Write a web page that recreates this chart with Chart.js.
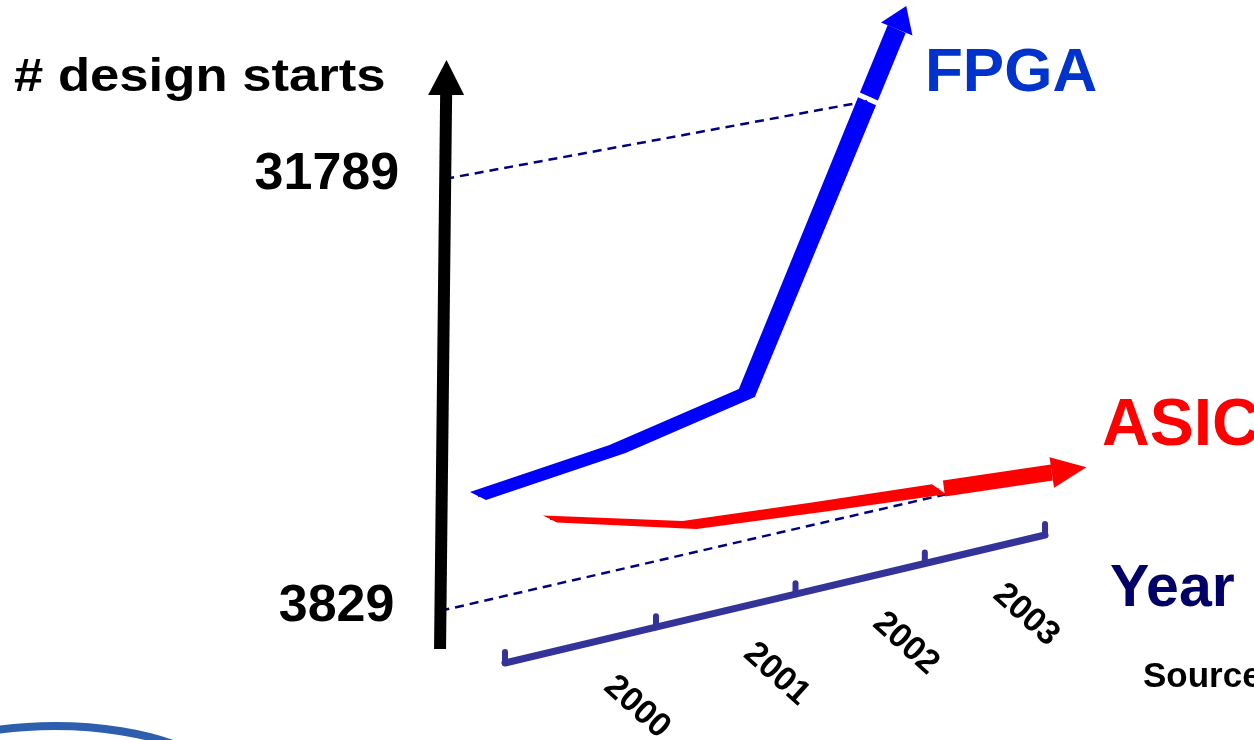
<!DOCTYPE html>
<html>
<head>
<meta charset="utf-8">
<script src="https://cdn.jsdelivr.net/npm/chart.js@4.4.1/dist/chart.umd.min.js"></script>
<style>
  html, body { margin: 0; padding: 0; background: #ffffff; overflow: hidden; }
  canvas { display: block; }
</style>
</head>
<body>
<canvas id="c" width="1254" height="740"></canvas>
<script>
// Design starts per year
const years = ['2000', '2001', '2002', '2003'];
const fpgaStarts = [8030, 9330, 11520, 31789];
const asicStarts = [7630, 5200, 4470, 3829];

// Values marked on the vertical axis
const valueTicks = [31789, 3829];
const valueTickLabels = ['31789', '3829'];

// Perspective drawing plane: years recede to the right, values rise upward
const VIEW = {
  originX: 505, originY: 663,          // front end of the year axis
  yearStep: 157.2, recede: 0.0411,     // year spacing and its perspective shrink
  axisSlope: 128 / 540,                // rise of the year axis per px
  pxPerUnit: 0.01545,                  // vertical scale at the front
  valueAxis: { x: 439.8, y: 670, lean: 0.011, bottom: 21, top: 575, head: 35, headHalf: 18 },
  lanes: { FPGA: { dx: -178, dy: -12 }, ASIC: { dx: -106, dy: 5 } }
};

function along(w) { return VIEW.yearStep * w / (1 + VIEW.recede * w); }
function shrink(w) { return 1 / (1 + VIEW.recede * w); }
function axisPoint(w) {
  const a = along(w);
  return { x: VIEW.originX + a, y: VIEW.originY - a * VIEW.axisSlope };
}
// year index i (0 = 2000) sits at slot i + 1 of the year axis
function project(i, value, lane) {
  const w = i + 1;
  const base = axisPoint(w);
  const off = VIEW.lanes[lane];
  return { x: base.x + off.dx, y: base.y + off.dy - value * VIEW.pxPerUnit * shrink(w) };
}
function valueAxisAt(h) {
  return { x: VIEW.valueAxis.x + h * VIEW.valueAxis.lean, y: VIEW.valueAxis.y - h };
}
function valueAxisPoint(value) { return valueAxisAt(value * VIEW.pxPerUnit); }

const STYLE = {
  FPGA: { color: '#0000ff', depth: [[16, 8], [16, 8], [16, 8], [18, 8]],
          arrow: { gap: 5, shaft: 78, head: 25, half: 17, depth: [18, 8] } },
  ASIC: { color: '#ff0000', depth: [[14, 7], [14, 8], [14, 9], [14, 10]],
          arrow: { gap: 5, shaft: 114, head: 35, half: 15.5, depth: [2, 16] } },
  axisBlue: '#333399',
  guide: '#000080',
  font: '"Liberation Sans", Arial, Helvetica, sans-serif'
};

const last = years.length - 1;
const fpgaPts = years.map((_, i) => project(i, fpgaStarts[i], 'FPGA'));
const asicPts = years.map((_, i) => project(i, asicStarts[i], 'ASIC'));
const slots = [0].concat(years.map((_, i) => i + 1));
const yearAxisPts = slots.map(w => axisPoint(w));
// the lower guide meets the underside of the ASIC ribbon
const asicUnder = {
  x: asicPts[last].x + STYLE.ASIC.depth[last][0] / 2,
  y: asicPts[last].y + STYLE.ASIC.depth[last][1] / 2
};

function ribbon(ctx, pts, depth, color) {
  ctx.beginPath();
  pts.forEach((p, i) => ctx.lineTo(p.x - depth[i][0] / 2, p.y - depth[i][1] / 2));
  for (let i = pts.length - 1; i >= 0; i--) ctx.lineTo(pts[i].x + depth[i][0] / 2, pts[i].y + depth[i][1] / 2);
  ctx.closePath();
  ctx.fillStyle = color;
  ctx.fill();
}

function trendArrow(ctx, prev, end, a, color) {
  let ux = end.x - prev.x, uy = end.y - prev.y;
  const len = Math.hypot(ux, uy); ux /= len; uy /= len;
  const nx = -uy, ny = ux;
  const s = { x: end.x + ux * a.gap, y: end.y + uy * a.gap };
  const e = { x: end.x + ux * a.shaft, y: end.y + uy * a.shaft };
  const dx = a.depth[0] / 2, dy = a.depth[1] / 2;
  ctx.fillStyle = color;
  ctx.beginPath();
  ctx.moveTo(s.x - dx, s.y - dy);
  ctx.lineTo(e.x - dx, e.y - dy);
  ctx.lineTo(e.x + dx, e.y + dy);
  ctx.lineTo(s.x + dx, s.y + dy);
  ctx.closePath();
  ctx.fill();
  ctx.beginPath();
  ctx.moveTo(e.x + nx * a.half, e.y + ny * a.half);
  ctx.lineTo(e.x + ux * a.head, e.y + uy * a.head);
  ctx.lineTo(e.x - nx * a.half, e.y - ny * a.half);
  ctx.closePath();
  ctx.fill();
}

const decor = {
  id: 'decor',
  afterDatasetDraw(chart, args) {
    const ctx = chart.ctx;
    const ds = chart.data.datasets[args.index];
    const pts = args.meta.data.map(el => ({ x: el.x, y: el.y }));
    ctx.save();
    if (ds.label === 'FPGA' || ds.label === 'ASIC') {
      const st = STYLE[ds.label];
      ribbon(ctx, pts, st.depth, st.color);
      trendArrow(ctx, pts[pts.length - 2], pts[pts.length - 1], st.arrow, st.color);
    } else if (ds.label === 'Year') {
      ctx.strokeStyle = STYLE.axisBlue;
      ctx.lineWidth = 6;
      ctx.lineCap = 'round';
      pts.forEach(p => { ctx.beginPath(); ctx.moveTo(p.x, p.y); ctx.lineTo(p.x, p.y - 11); ctx.stroke(); });
      ctx.fillStyle = '#000000';
      ctx.font = 'bold 34px ' + STYLE.font;
      ctx.textAlign = 'center';
      ctx.textBaseline = 'middle';
      years.forEach((y, i) => {
        const p = pts[i + 1];
        ctx.save();
        ctx.translate(p.x - 19, p.y + 80);
        ctx.rotate(42 * Math.PI / 180);
        ctx.fillText(y, 0, 0);
        ctx.restore();
      });
    } else if (ds.label === '# design starts') {
      const top = pts[1];
      const tip = valueAxisAt(VIEW.valueAxis.top + VIEW.valueAxis.head);
      ctx.fillStyle = '#000000';
      ctx.beginPath();
      ctx.moveTo(top.x - VIEW.valueAxis.headHalf, top.y);
      ctx.lineTo(tip.x, tip.y);
      ctx.lineTo(top.x + VIEW.valueAxis.headHalf, top.y);
      ctx.closePath();
      ctx.fill();
    }
    ctx.restore();
  },
  afterDraw(chart) {
    const ctx = chart.ctx;
    ctx.save();
    ctx.textBaseline = 'alphabetic';

    // axis title
    ctx.fillStyle = '#000000';
    ctx.font = 'bold 47px ' + STYLE.font;
    ctx.save();
    ctx.translate(14, 91);
    ctx.scale(1.12, 1);
    ctx.fillText('# design starts', 0, 0);
    ctx.restore();

    // marked values on the vertical axis
    ctx.font = 'bold 52px ' + STYLE.font;
    ctx.textAlign = 'right';
    ctx.textBaseline = 'middle';
    valueTicks.forEach((v, i) => {
      const p = valueAxisPoint(v);
      ctx.fillText(valueTickLabels[i], p.x - 46, p.y - 4);
    });

    // series names and axis name
    ctx.textAlign = 'left';
    ctx.textBaseline = 'alphabetic';
    ctx.fillStyle = '#0033cc';
    ctx.font = 'bold 62px ' + STYLE.font;
    ctx.fillText('FPGA', 925, 91);
    ctx.fillStyle = '#ff0000';
    ctx.font = 'bold 66px ' + STYLE.font;
    ctx.fillText('ASIC', 1102, 445);
    ctx.fillStyle = '#000066';
    ctx.font = 'bold 59px ' + STYLE.font;
    ctx.fillText('Year', 1110, 606);
    ctx.fillStyle = '#000000';
    ctx.font = 'bold 35px ' + STYLE.font;
    ctx.fillText('Source', 1143, 687);

    // logo ring in the corner
    ctx.strokeStyle = '#2d5fae';
    ctx.lineWidth = 8;
    ctx.beginPath();
    ctx.ellipse(55, 800, 180, 74, 0, Math.PI, 2 * Math.PI);
    ctx.stroke();
    ctx.restore();
  }
};

const line = (label, data, color, width, order, extra) => Object.assign({
  label, data, showLine: true, borderColor: color, backgroundColor: color,
  borderWidth: width, pointRadius: 0, fill: false, order
}, extra || {});

new Chart(document.getElementById('c'), {
  type: 'scatter',
  data: {
    datasets: [
      line('guide ' + valueTickLabels[0], [valueAxisPoint(valueTicks[0]), fpgaPts[last]], STYLE.guide, 2.5, 6, { borderDash: [9, 6] }),
      line('guide ' + valueTickLabels[1], [valueAxisPoint(valueTicks[1]), asicUnder], STYLE.guide, 2.5, 5, { borderDash: [9, 6] }),
      line('# design starts', [valueAxisAt(VIEW.valueAxis.bottom), valueAxisAt(VIEW.valueAxis.top)], '#000000', 12, 4, { borderCapStyle: 'butt' }),
      line('Year', yearAxisPts, STYLE.axisBlue, 7, 3, { borderCapStyle: 'round' }),
      line('ASIC', asicPts, STYLE.ASIC.color, 2, 2),
      line('FPGA', fpgaPts, STYLE.FPGA.color, 2, 1)
    ]
  },
  options: {
    responsive: false,
    animation: false,
    devicePixelRatio: 1,
    events: [],
    layout: { padding: 0 },
    scales: {
      x: { type: 'linear', min: 0, max: 1254, display: false },
      y: { type: 'linear', min: 0, max: 740, reverse: true, display: false }
    },
    plugins: { legend: { display: false }, tooltip: { enabled: false } }
  },
  plugins: [decor]
});
</script>
</body>
</html>
